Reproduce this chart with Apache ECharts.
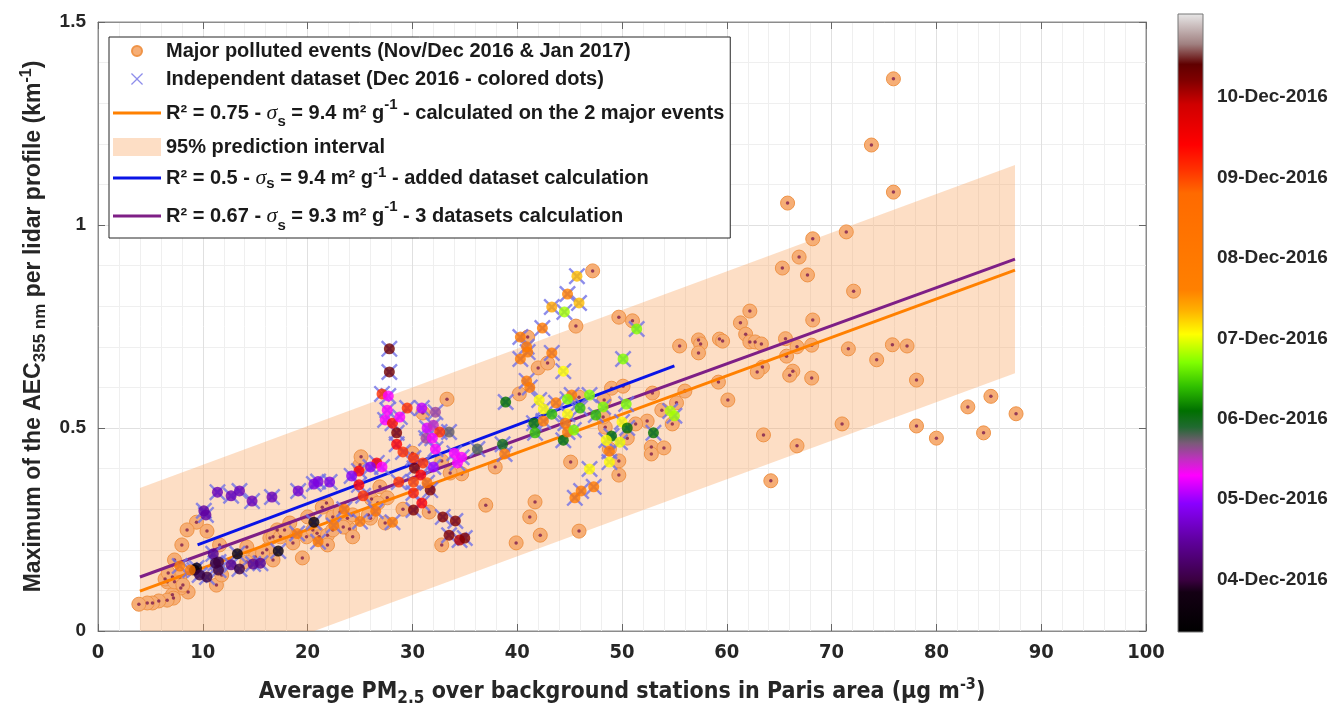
<!DOCTYPE html>
<html>
<head>
<meta charset="utf-8">
<script src="https://cdn.jsdelivr.net/npm/echarts@6/dist/echarts.min.js"></script>
<style>
html,body{margin:0;padding:0;background:#fff;}
#main{width:1331px;height:714px;}
</style>
</head>
<body>
<div id="main"></div>
<script>
// major polluted events (PM2.5, AEC max)
var majorPM = [75.9,73.8,75.9,65.8,71.4,68.2,66.9,65.3,67.7,72.1,68.2,65.6,66.7,68.1,71.6,75.8,77.2,65.7,74.3,66.3,66.0,68.1,78.1,85.2,83.0,87.6,71.0,78.1,84.5,80.0,66.7,
	47.2,49.7,51.0,45.6,62.2,61.3,55.5,57.3,57.5,57.3,59.3,59.6,61.8,62.2,62.7,63.3,63.4,62.9,59.2,60.1,56.0,55.2,52.9,53.8,52.4,51.3,54.8,52.8,52.8,54.0,49.7,49.7,45.1,63.5,64.2,49.0,50.1,48.4,48.2,50.5,48.8,
	41.0,42.0,42.9,40.2,45.9,33.3,48.3,37.9,37.0,41.7,41.2,42.2,45.9,39.9,32.8,29.1,31.6,34.7,30.0,32.8,31.0,
	25.0,26.9,27.6,26.1,21.8,21.4,24.0,24.3,26.0,33.6,20.0,18.3,17.1,16.4,23.8,22.4,23.1,23.4,20.9,24.3,25.8,26.7,27.4,25.1,
	9.4,8.5,10.4,8.0,11.6,7.3,7.1,6.6,7.8,8.6,7.9,7.1,7.2,6.6,5.8,5.2,4.7,3.9,11.3,11.8,14.2,15.0,14.2,16.1,16.7,15.7,16.7,17.4,18.5,17.8,19.5,18.6,19.9,20.5,21.1,21.9,22.4,21.9,6.4,7.3,8.1,6.7,11.4];
var majorAEC = [1.36,1.197,1.081,1.054,0.983,0.966,0.921,0.894,0.877,0.837,0.766,0.72,0.70,0.704,0.695,0.705,0.702,0.677,0.668,0.64,0.63,0.623,0.618,0.578,0.552,0.535,0.51,0.505,0.488,0.475,0.456,
	0.887,0.773,0.764,0.751,0.788,0.759,0.702,0.717,0.707,0.685,0.719,0.714,0.731,0.712,0.712,0.707,0.65,0.638,0.613,0.569,0.591,0.562,0.586,0.544,0.517,0.51,0.51,0.453,0.436,0.451,0.419,0.384,0.416,0.483,0.37,0.598,0.603,0.502,0.527,0.475,0.448,
	0.724,0.648,0.66,0.584,0.576,0.571,0.569,0.404,0.31,0.318,0.281,0.236,0.246,0.217,0.212,0.30,0.293,0.387,0.438,0.419,0.537,
	0.409,0.355,0.328,0.325,0.315,0.305,0.251,0.232,0.278,0.389,0.281,0.266,0.249,0.229,0.278,0.281,0.293,0.256,0.241,0.286,0.286,0.315,0.266,0.429,
	0.268,0.249,0.246,0.212,0.212,0.175,0.133,0.121,0.133,0.096,0.106,0.089,0.081,0.076,0.074,0.069,0.069,0.066,0.113,0.138,0.207,0.182,0.17,0.2,0.175,0.192,0.232,0.232,0.232,0.249,0.18,0.217,0.232,0.249,0.232,0.236,0.249,0.212,0.128,0.121,0.113,0.143,0.158];

// independent dataset (PM2.5, AEC max, day of December 2016)
var indepPM = [45.7,44.8,45.9,44.5,51.4,50.1,44.4,46.9,45.2,46.0,44.8,48.2,47.5,50.4,50.0,54.6,55.0,50.5,49.0,48.5,49.8,53.0,48.8,48.8,46.9,47.3,46.1,45.5,44.4,44.8,45.4,
	43.3,42.4,40.3,40.9,41.0,43.3,40.3,40.9,41.2,38.9,42.1,42.5,43.7,44.8,43.3,41.6,41.7,42.5,44.6,38.6,38.8,36.2,33.5,32.2,30.9,29.5,34.7,34.3,34.0,32.0,32.9,34.1,33.5,34.5,35.0,30.1,30.9,31.7,30.1,
	27.8,27.8,27.1,27.7,27.6,27.4,28.1,28.8,31.4,32.0,32.6,31.3,31.9,32.2,28.5,28.5,29.1,30.1,31.0,30.2,30.8,31.4,30.1,28.1,28.7,26.6,26.0,24.9,27.1,24.2,24.9,25.3,
	11.4,12.7,13.5,14.7,16.6,19.1,20.6,21.0,22.1,10.1,10.3,11.0,11.5,11.5,9.4,9.2,9.7,10.4,13.3,12.7,13.5,14.8,15.5,17.2,20.6,11.2,
	22.5,23.5,25.0,19.0,21.0,26.5,7.8,8.8];
var indepAEC = [0.874,0.83,0.808,0.786,0.744,0.67,0.64,0.581,0.581,0.549,0.534,0.552,0.532,0.559,0.515,0.542,0.53,0.50,0.48,0.47,0.465,0.488,0.443,0.416,0.399,0.355,0.345,0.328,0.47,0.49,0.495,
	0.798,0.746,0.724,0.70,0.687,0.685,0.67,0.616,0.60,0.564,0.569,0.547,0.562,0.571,0.534,0.512,0.488,0.517,0.512,0.46,0.436,0.448,0.49,0.539,0.549,0.549,0.428,0.414,0.438,0.404,0.281,0.271,0.236,0.224,0.229,0.298,0.315,0.347,0.34,
	0.695,0.638,0.584,0.579,0.544,0.52,0.512,0.527,0.50,0.507,0.49,0.475,0.475,0.448,0.488,0.46,0.441,0.426,0.414,0.401,0.384,0.365,0.367,0.268,0.367,0.414,0.404,0.394,0.404,0.382,0.36,0.333,
	0.342,0.333,0.345,0.32,0.33,0.345,0.362,0.368,0.367,0.296,0.286,0.19,0.17,0.15,0.155,0.15,0.138,0.133,0.19,0.163,0.153,0.165,0.167,0.197,0.268,0.167,
	0.26,0.30,0.27,0.24,0.22,0.295,0.16,0.15];
var indepDay = [7.3,7.6,7.3,6.8,6.7,6.7,7.05,6.7,7.9,6.4,7.05,6.7,6.4,6.7,7.05,6.85,6.8,6.1,6.1,7.05,7.0,6.1,7.9,7.05,7.05,8.0,8.0,8.0,6.1,8.0,6.7,
	7.4,8.0,8.0,8.0,8.0,8.0,8.0,8.0,8.0,6.1,7.05,7.05,8.0,6.7,6.4,6.1,6.4,8.0,8.0,6.0,8.0,5.8,5.75,5.6,5.1,9.1,5.3,5.3,5.3,5.0,10.2,10.2,10.2,10.0,10.2,10.2,9.4,10.2,9.2,
	10.3,10.3,9.1,5.3,5.3,5.3,9.3,5.3,5.2,5.5,9.1,5.6,5.3,5.3,10.2,9.4,9.1,9.1,9.1,10.2,9.4,8.5,9.0,8.0,9.1,9.4,4.9,9.4,5.3,4.9,9.4,9.1,
	4.6,4.6,4.6,4.6,4.6,4.7,4.8,4.8,4.8,4.5,4.5,4.4,4.0,4.0,3.6,3.6,4.0,4.0,3.6,4.4,4.0,4.4,4.4,3.6,3.6,4.0,
	8.0,8.2,8.0,8.0,8.0,8.3,8.0,8.0];

// regression lines and 95% prediction interval
var fitX = [4, 87.5];
var fitMajor = [0.098, 0.889];
var fit3sets = [0.133, 0.916];
var addX = [9.5, 55];
var fitAdded = [0.212, 0.653];
var bandX = [4, 87.5];
var bandLow = [-0.158, 0.635];
var bandHigh = [0.352, 1.148];

// colorbar
var dayMin = 3.35, dayMax = 11.03;
var dayTicks = [4, 5, 6, 7, 8, 9, 10];
var cmapStops = [
	[3.35,'#000000'],[3.85,'#140014'],[4.0,'#3a0040'],[4.5,'#6000a0'],[4.95,'#8a00ff'],[5.3,'#ff00ff'],
	[5.5,'#c030c0'],[5.7,'#7a5a78'],[5.9,'#206a30'],[6.1,'#007000'],[6.4,'#30c000'],[6.7,'#80ff00'],
	[7.05,'#ffff00'],[7.35,'#ffb000'],[7.6,'#ff8000'],[8.8,'#ff6a00'],[9.1,'#ff3000'],[9.4,'#ff0000'],
	[9.9,'#d00000'],[10.2,'#800000'],[10.4,'#600000'],[10.65,'#a08080'],[11.03,'#e8e8e8']
];

var F = '"Liberation Sans", Arial, Helvetica, sans-serif';
var FN = '"Liberation Sans Narrow", "Arial Narrow", "DejaVu Sans Condensed", sans-serif';
var TXT = '#262626';

function hex(c){ return [parseInt(c.substr(1,2),16),parseInt(c.substr(3,2),16),parseInt(c.substr(5,2),16)]; }
function dayColor(d){
	if (d <= cmapStops[0][0]) return cmapStops[0][1];
	for (var i=1;i<cmapStops.length;i++){
		if (d <= cmapStops[i][0]){
			var t=(d-cmapStops[i-1][0])/(cmapStops[i][0]-cmapStops[i-1][0]);
			var a=hex(cmapStops[i-1][1]), b=hex(cmapStops[i][1]);
			return 'rgb('+Math.round(a[0]+(b[0]-a[0])*t)+','+Math.round(a[1]+(b[1]-a[1])*t)+','+Math.round(a[2]+(b[2]-a[2])*t)+')';
		}
	}
	return cmapStops[cmapStops.length-1][1];
}

var gradStops = [];
for (var i=0;i<cmapStops.length;i++){
	gradStops.push({offset:(cmapStops[i][0]-dayMin)/(dayMax-dayMin), color:cmapStops[i][1]});
}

var majorData=[], indepData=[], bandData=[];
for (var i=0;i<majorPM.length;i++) majorData.push([majorPM[i], majorAEC[i]]);
for (var i=0;i<indepPM.length;i++) indepData.push([indepPM[i], indepAEC[i], indepDay[i]]);
for (var i=0;i<bandX.length;i++) bandData.push([bandX[i], bandLow[i], bandHigh[i]]);

function lineData(xs, ys){
	var d=[];
	for (var i=0;i<xs.length;i++) d.push([xs[i], ys[i]]);
	return d;
}

var legendText = {
	major: 'Major polluted events (Nov/Dec 2016 & Jan 2017)',
	indep: 'Independent dataset (Dec 2016 - colored dots)',
	fitMajor: 'R² = 0.75 - {it|σ}{sub|s} = 9.4 m² g{sup|-1} - calculated on the 2 major events',
	band: '95% prediction interval',
	fitAdded: 'R² = 0.5 - {it|σ}{sub|s} = 9.4 m² g{sup|-1} - added dataset calculation',
	fit3: 'R² = 0.67 - {it|σ}{sub|s} = 9.3 m² g{sup|-1} - 3 datasets calculation'
};

var xSymbol = 'path://M0,1 L1,0 L5,4 L9,0 L10,1 L6,5 L10,9 L9,10 L5,6 L1,10 L0,9 L4,5 Z';
var xIcon = 'path://M0,0 M48,18 M18,3.9 L18.9,3 L24,8.1 L29.1,3 L30,3.9 L24.9,9 L30,14.1 L29.1,15 L24,9.9 L18.9,15 L18,14.1 L23.1,9 Z';
var dotIcon = 'path://M0,0 M48,18 M19,9 A5,5 0 1 1 29,9 A5,5 0 1 1 19,9 Z';
var lineIcon = 'path://M0,0 M48,18 M0,7.6 L48,7.6 L48,10.4 L0,10.4 Z';

var bandColor = 'rgba(250,160,90,0.35)';

var chart = echarts.init(document.getElementById('main'));
var option = {
	animation: false,
	backgroundColor: '#fff',
	grid: [
		{left:98, top:22, width:1048, height:609, show:true, borderColor:'#8c8c8c', borderWidth:1},
		{left:1178, top:14, width:25, height:618, show:true, borderColor:'#777', borderWidth:1,
			backgroundColor: new echarts.graphic.LinearGradient(0,1,0,0, gradStops)}
	],
	legend: {
		orient:'vertical', left:109, top:37, selectedMode:false,
		backgroundColor:'#fff', borderColor:'#262626', borderWidth:1,
		padding:[4,6,5,3], itemGap:8, itemWidth:48, itemHeight:18,
		formatter: function(n){ return legendText[n]; },
		textStyle: {fontFamily:F, fontWeight:'bold', fontSize:20, color:'#1a1a1a', lineHeight:30,
			rich: {
				it:{fontFamily:'"Liberation Serif", "Times New Roman", serif', fontStyle:'italic', fontWeight:'normal', fontSize:22, color:'#1a1a1a', lineHeight:26},
				sub:{fontFamily:F, fontWeight:'bold', fontSize:15, color:'#1a1a1a', lineHeight:12, verticalAlign:'bottom'},
				sup:{fontFamily:F, fontWeight:'bold', fontSize:15, color:'#1a1a1a', lineHeight:12, verticalAlign:'top'}
			}
		},
		data: [
			{name:'major', icon:dotIcon, textStyle:{lineHeight:18}},
			{name:'indep', icon:xIcon, textStyle:{lineHeight:18}},
			{name:'fitMajor', icon:lineIcon, textStyle:{lineHeight:32}},
			{name:'band', icon:'rect', textStyle:{lineHeight:16}},
			{name:'fitAdded', icon:lineIcon, textStyle:{lineHeight:26}},
			{name:'fit3', icon:lineIcon, textStyle:{lineHeight:34}}
		]
	},
	xAxis: [
		{gridIndex:0, type:'value', min:0, max:100, interval:10, position:'bottom',
			axisLine:{onZero:false, lineStyle:{color:'#8c8c8c'}},
			axisTick:{inside:true, length:7, lineStyle:{color:'#666'}},
			minorTick:{show:false, splitNumber:5},
			axisLabel:{fontFamily:FN, fontWeight:'bold', fontSize:20, color:TXT, margin:12},
			splitLine:{show:true, lineStyle:{color:'#e0e0e0'}},
			minorSplitLine:{show:true, lineStyle:{color:'#efefef'}},
			name:'Average PM{sub|2.5} over background stations in Paris area (µg m{sup|-3})',
			nameLocation:'middle', nameGap:46,
			nameTextStyle:{fontFamily:FN, fontWeight:'bold', fontSize:23, color:TXT, lineHeight:30,
				rich:{
					sub:{fontFamily:FN, fontWeight:'bold', fontSize:17, color:TXT, lineHeight:14, verticalAlign:'bottom'},
					sup:{fontFamily:FN, fontWeight:'bold', fontSize:16, color:TXT, lineHeight:14, verticalAlign:'top'}
				}
			}
		},
		{gridIndex:0, type:'value', min:0, max:100, interval:10, position:'top',
			axisLine:{onZero:false, lineStyle:{color:'#8c8c8c'}},
			axisTick:{inside:true, length:7, lineStyle:{color:'#666'}},
			axisLabel:{show:false}, splitLine:{show:false}},
		{gridIndex:1, type:'value', min:0, max:1, show:false}
	],
	yAxis: [
		{gridIndex:0, type:'value', min:0, max:1.5, interval:0.5,
			axisLine:{show:true, onZero:false, lineStyle:{color:'#8c8c8c'}},
			axisTick:{show:true, inside:true, length:7, lineStyle:{color:'#666'}},
			minorTick:{show:false, splitNumber:5},
			axisLabel:{fontFamily:F, fontWeight:'bold', fontSize:19, color:TXT, margin:12},
			splitLine:{show:true, lineStyle:{color:'#e0e0e0'}},
			minorSplitLine:{show:true, lineStyle:{color:'#efefef'}},
			name:'Maximum of the AEC{sub|355 nm} per lidar profile (km{sup|-1})',
			nameLocation:'middle', nameGap:48,
			nameTextStyle:{fontFamily:F, fontWeight:'bold', fontSize:23, color:TXT, lineHeight:30,
				rich:{
					sub:{fontFamily:F, fontWeight:'bold', fontSize:17, color:TXT, lineHeight:14, verticalAlign:'bottom'},
					sup:{fontFamily:F, fontWeight:'bold', fontSize:16, color:TXT, lineHeight:14, verticalAlign:'top'}
				}
			}
		},
		{gridIndex:0, type:'value', min:0, max:1.5, interval:0.5, position:'right',
			axisLine:{show:true, onZero:false, lineStyle:{color:'#8c8c8c'}},
			axisTick:{show:true, inside:true, length:7, lineStyle:{color:'#666'}},
			axisLabel:{show:false}, splitLine:{show:false}},
		{gridIndex:1, type:'value', min:dayMin, max:dayMax, position:'right',
			axisLine:{show:false},
			axisTick:{show:false},
			axisLabel:{show:true, customValues:dayTicks, fontFamily:F, fontWeight:'bold', fontSize:19, color:TXT, margin:14,
				formatter:function(v){ var d=Math.round(v); return (d<10?'0':'')+d+'-Dec-2016'; }},
			splitLine:{show:false}}
	],
	series: [
		{name:'band', type:'custom', xAxisIndex:0, yAxisIndex:0, data:bandData, clip:true, silent:true,
			encode:{x:0, y:[1,2]}, itemStyle:{color:bandColor}, z:1,
			renderItem:function(params, api){
				if (params.dataIndex !== 0) return null;
				var pts=[];
				for (var i=0;i<bandX.length;i++) pts.push(api.coord([bandX[i], bandHigh[i]]));
				for (var i=bandX.length-1;i>=0;i--) pts.push(api.coord([bandX[i], bandLow[i]]));
				var cs=params.coordSys;
				return {type:'polygon', shape:{points:pts}, style:{fill:bandColor},
					clipPath:{type:'rect', shape:{x:cs.x, y:cs.y, width:cs.width, height:cs.height}}};
			}
		},
		{name:'major', type:'scatter', data:majorData, symbol:'circle', symbolSize:14, z:2,
			itemStyle:{color:'#f6ae76', borderColor:'#ef9448', borderWidth:1, opacity:1}},
		{name:'majorCentre', type:'scatter', data:majorData, symbol:'circle', symbolSize:3.5, z:3, silent:true,
			itemStyle:{color:'#7d1d4f'}},
		{name:'fitMajor', type:'line', data:lineData(fitX, fitMajor), symbol:'none', z:4,
			lineStyle:{color:'#ff8000', width:3}, itemStyle:{color:'#ff8000'}},
		{name:'fit3', type:'line', data:lineData(fitX, fit3sets), symbol:'none', z:4,
			lineStyle:{color:'#7e1f86', width:3}, itemStyle:{color:'#7e1f86'}},
		{name:'fitAdded', type:'line', data:lineData(addX, fitAdded), symbol:'none', z:4,
			lineStyle:{color:'#0a14e6', width:3}, itemStyle:{color:'#0a14e6'}},
		{name:'indep', type:'scatter', data:indepData, symbol:xSymbol, symbolSize:17, symbolKeepAspect:true, z:5,
			itemStyle:{color:'#7070e6'}},
		{name:'indepDots', type:'scatter', data:indepData, symbol:'circle', symbolSize:11, z:6,
			itemStyle:{color:function(p){ return dayColor(p.value[2]); }}}
	]
};
chart.setOption(option);
</script>
</body>
</html>
